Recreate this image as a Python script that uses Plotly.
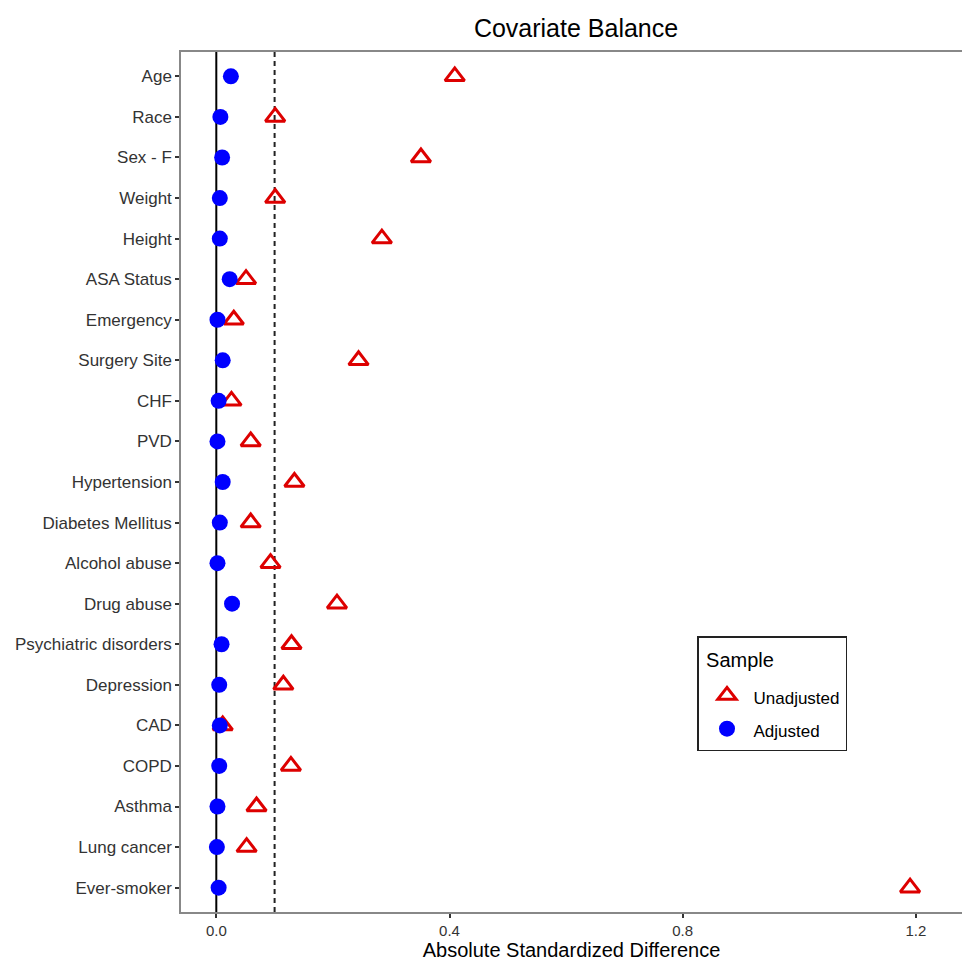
import plotly.graph_objects as go

# Covariates, top to bottom
covariates = [
    "Age", "Race", "Sex - F", "Weight", "Height", "ASA Status", "Emergency",
    "Surgery Site", "CHF", "PVD", "Hypertension", "Diabetes Mellitus",
    "Alcohol abuse", "Drug abuse", "Psychiatric disorders", "Depression",
    "CAD", "COPD", "Asthma", "Lung cancer", "Ever-smoker",
]

# Absolute standardized differences before weighting
unadjusted = [
    0.409, 0.101, 0.351, 0.101, 0.284, 0.051, 0.030,
    0.244, 0.026, 0.059, 0.134, 0.059,
    0.093, 0.207, 0.129, 0.115,
    0.011, 0.128, 0.069, 0.052, 1.190,
]

# Absolute standardized differences after weighting
adjusted = [
    0.025, 0.007, 0.010, 0.006, 0.006, 0.023, 0.002,
    0.011, 0.004, 0.002, 0.011, 0.006,
    0.002, 0.027, 0.009, 0.005,
    0.006, 0.005, 0.002, 0.001, 0.004,
]

threshold = 0.1
x_ticks = [0.0, 0.4, 0.8, 1.2]
x_tick_text = ["0.0", "0.4", "0.8", "1.2"]

FONT = "Liberation Sans, Arial, Helvetica, sans-serif"


def legend_label(text):
    # smaller visible text inside a taller legend row
    return f"<span style='font-size:17px'>{text}</span>"


fig = go.Figure()

fig.add_trace(go.Scatter(
    x=unadjusted, y=covariates, mode="markers", name=legend_label("Unadjusted"),
    legendgroup="u",
    marker=dict(symbol="triangle-up-open", size=17, color="#dd0000",
                line=dict(width=3, color="#dd0000")),
))
fig.add_trace(go.Scatter(
    x=adjusted, y=covariates, mode="markers", name=legend_label("Adjusted"),
    legendgroup="a",
    marker=dict(symbol="circle", size=16, color="#0000ff",
                line=dict(width=0)),
))

# Reference lines at zero and at the balance threshold
fig.add_shape(type="line", xref="x", yref="paper", x0=0, x1=0, y0=0, y1=1,
              line=dict(color="black", width=2), layer="below")
fig.add_shape(type="line", xref="x", yref="paper", x0=threshold, x1=threshold,
              y0=0, y1=1, line=dict(color="#222222", width=2, dash="5px,4px"),
              layer="below")

fig.update_layout(
    width=962, height=961,
    margin=dict(l=181, r=0, t=52, b=49),
    paper_bgcolor="white", plot_bgcolor="white",
    font=dict(family=FONT, color="#333333"),
    title=dict(text="Covariate Balance", x=0.5058, xref="paper", xanchor="center",
               y=1 - 28 / 961, yref="container", yanchor="middle",
               font=dict(size=25, color="black", family=FONT)),
    showlegend=True,
    legend=dict(
        x=(697 - 181) / 781, y=1 - (636 - 52) / 860, xref="paper", yref="paper",
        xanchor="left", yanchor="top",
        bgcolor="white", bordercolor="#222222", borderwidth=1.5,
        title=dict(text="<span style='font-size:20px; baseline-shift:8px'> Sample</span>",
                   font=dict(size=29, color="black", family=FONT)),
        font=dict(size=21, color="black", family=FONT),
        itemsizing="trace", tracegroupgap=3,
        indentation=2, itemwidth=43,
    ),
    xaxis=dict(
        range=[(181 - 216.3) / 583, (962 - 216.3) / 583],
        tickvals=x_ticks, ticktext=x_tick_text,
        showgrid=False, zeroline=False,
        showline=True, mirror=True, linecolor="#888888", linewidth=1.5,
        ticks="outside", ticklen=4, tickcolor="#333333", tickwidth=1.5,
        tickfont=dict(size=15, color="#333333", family=FONT),
        title=dict(text="Absolute Standardized Difference", standoff=4,
                   font=dict(size=20, color="black", family=FONT)),
    ),
    yaxis=dict(
        type="category", categoryorder="array", categoryarray=covariates,
        range=[len(covariates) - 0.4, -0.6],
        showgrid=False, zeroline=False,
        showline=True, mirror=False, linecolor="#888888", linewidth=1.5,
        ticks="outside", ticklen=4, tickcolor="#333333", tickwidth=1.5,
        tickfont=dict(size=17, color="#333333", family=FONT),
    ),
)

fig.write_html("out.html")
